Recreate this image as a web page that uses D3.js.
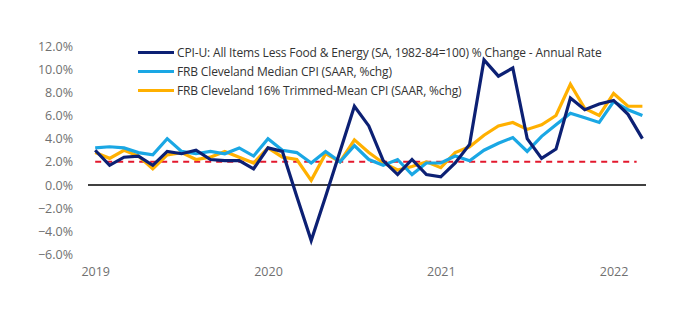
<!DOCTYPE html>
<html><head><meta charset="utf-8">
<script src="https://cdn.jsdelivr.net/npm/d3@7"></script>
<style>body{margin:0;background:#fff;} svg{display:block;}</style>
</head><body>
<script>
const months = d3.range(39); // Jan 2019 .. Mar 2022
const coreCPI = [3.0,1.7,2.4,2.5,1.7,2.9,2.7,3.0,2.2,2.1,2.1,1.4,
                 3.2,2.9,-1.0,-4.8,-1.0,2.9,6.8,5.1,2.1,0.9,2.2,0.9,
                 0.7,1.9,3.5,10.8,9.4,10.1,4.0,2.3,3.1,7.5,6.5,7.0,
                 7.3,6.1,4.0];
const medianCPI = [3.2,3.3,3.2,2.8,2.6,4.0,2.9,2.7,2.9,2.7,3.2,2.5,
                   4.0,3.0,2.8,1.9,2.9,2.0,3.4,2.2,1.7,2.2,0.9,1.9,
                   1.9,2.5,2.1,3.0,3.6,4.1,2.9,4.2,5.2,6.2,5.8,5.4,
                   7.2,6.5,6.0];
const trimmedCPI = [2.8,2.3,3.0,2.5,1.4,2.6,2.8,2.2,2.4,2.9,2.4,1.9,
                    3.2,2.4,2.2,0.4,2.7,2.0,3.9,2.8,1.9,1.3,1.6,2.0,
                    1.5,2.8,3.3,4.3,5.1,5.4,4.8,5.2,6.0,8.7,6.6,6.0,
                    7.9,6.8,6.8];
const seriesNames = ["CPI-U: All Items Less Food & Energy (SA, 1982-84=100) % Change - Annual Rate",
                     "FRB Cleveland Median CPI (SAAR, %chg)",
                     "FRB Cleveland 16% Trimmed-Mean CPI (SAAR, %chg)"];
const yearTicks = [0,12,24,36];
const yearLabels = ["2019","2020","2021","2022"];
const yTicks = [-6,-4,-2,0,2,4,6,8,10,12];
const target = 2;

const W=700,H=323;
const svg=d3.select("body").append("svg").attr("width",W).attr("height",H);
const x=d3.scaleLinear().domain([-0.5,38.25]).range([88,646]);
const y=d3.scaleLinear().domain([-6,12]).range([254.5,46]);
const font="'Open Sans', 'Noto Sans', sans-serif";

// y axis labels
const yAxis=d3.axisLeft(y).tickValues(yTicks).tickSize(0).tickPadding(0)
  .tickFormat(d=>d3.format(".1f")(d)+"%");
const ga=svg.append("g").attr("transform","translate(73,0)").call(yAxis);
ga.select(".domain").remove();
ga.selectAll("text").attr("font-family",font).attr("font-size",12.5).attr("fill","#707070");

// x axis labels
const xAxis=d3.axisBottom(x).tickValues(yearTicks).tickSize(0).tickPadding(0)
  .tickFormat((d,i)=>yearLabels[i]);
const gx=svg.append("g").attr("transform","translate(0,267)").call(xAxis);
gx.select(".domain").remove();
gx.selectAll("text").attr("font-family",font).attr("font-size",12.5).attr("fill","#707070");

// zero line
svg.append("line").attr("x1",x(-0.5)).attr("x2",x(38.25)).attr("y1",y(0)).attr("y2",y(0))
  .attr("stroke","#000").attr("stroke-width",1.6);
// target dashed line
svg.append("line").attr("x1",x(0)).attr("x2",x(37.6)).attr("y1",y(target)).attr("y2",y(target))
  .attr("stroke","#e3182d").attr("stroke-width",2).attr("stroke-dasharray","6,5");

const colors=["#0c2074","#1aa7e4","#ffb000"];
const data=[coreCPI,medianCPI,trimmedCPI];
const line=d3.line().x((d,i)=>x(months[i])).y(d=>y(d));
// draw order: yellow, blue, navy on top
[2,1,0].forEach(k=>{
  svg.append("path").datum(data[k]).attr("d",line).attr("fill","none")
    .attr("stroke",colors[k]).attr("stroke-width",3.2).attr("stroke-linejoin","miter");
});

// legend
const lg=svg.append("g");
seriesNames.forEach((n,i)=>{
  const yy=52.5+i*19;
  lg.append("line").attr("x1",138).attr("x2",174).attr("y1",yy).attr("y2",yy)
    .attr("stroke",colors[i]).attr("stroke-width",3);
  lg.append("text").attr("x",177).attr("y",yy).attr("dy","0.35em")
    .attr("font-family",font).attr("font-size",12).attr("fill","#333")
    .attr("letter-spacing","-0.15").text(n);
});
</script>
</body></html>
